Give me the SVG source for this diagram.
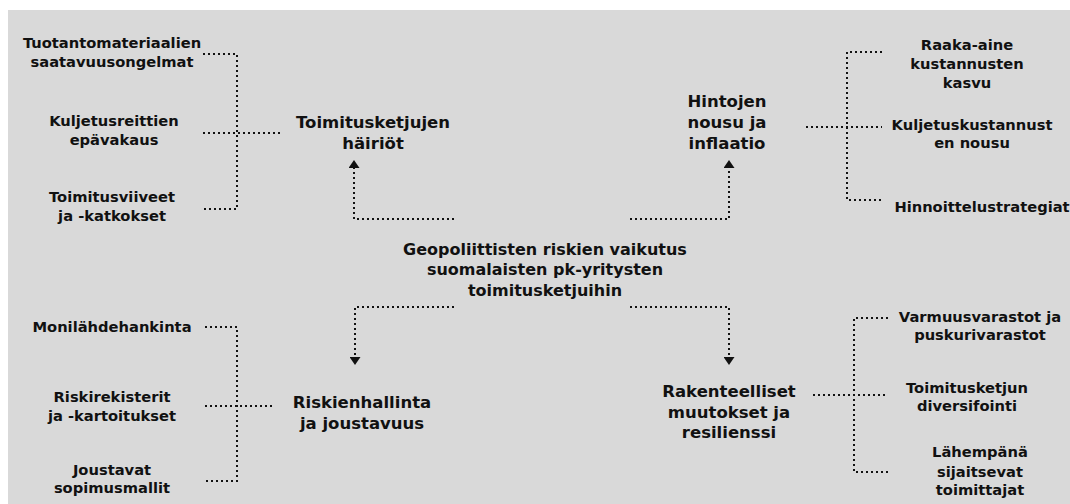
<svg xmlns="http://www.w3.org/2000/svg" width="1070" height="504" viewBox="0 0 1070 504">
<defs>
<style>
text{font-family:"DejaVu Sans","Noto Sans",sans-serif;font-weight:bold;fill:#111;text-anchor:middle}
.leaf{font-size:14.7px}
.title{font-size:16.5px}
.center{font-size:16px}
.dot{fill:none;stroke:#111;stroke-width:2;stroke-dasharray:2 3}
</style>
<marker id="arr" viewBox="0 0 8 11" refX="0" refY="5.5" markerWidth="8" markerHeight="11" markerUnits="userSpaceOnUse" orient="auto">
<path d="M0,0 L8,5.5 L0,11 z" fill="#111"/>
</marker>
</defs>
<rect x="0" y="0" width="1070" height="504" fill="#ffffff"/>
<rect x="8" y="10" width="1062" height="494" fill="#d9d9d9"/>
<g id="connectors">
<path class="dot" d="M454,219 H354 V168" marker-end="url(#arr)"/>
<path class="dot" d="M630,219 H729 V168" marker-end="url(#arr)"/>
<path class="dot" d="M454,307 H355 V357" marker-end="url(#arr)"/>
<path class="dot" d="M630,307 H729 V357" marker-end="url(#arr)"/>
<path class="dot" d="M203,54 H237 V209 H203 M203,133 H280"/>
<path class="dot" d="M882,52 H847 V200 H882 M806,127 H882"/>
<path class="dot" d="M205,327 H237 V481 H205 M205,406 H275"/>
<path class="dot" d="M888,318 H854 V472 H888 M813,395 H888"/>
</g>
<g id="center"><text class="center" x="545"><tspan x="545" y="255">Geopoliittisten riskien vaikutus</tspan><tspan x="545" y="275">suomalaisten pk-yritysten</tspan><tspan x="545" y="296">toimitusketjuihin</tspan></text></g>
<g id="n-toimitusketjut"><text class="title"><tspan x="373" y="128">Toimitusketjujen</tspan><tspan x="373" y="149">häiriöt</tspan></text></g>
<g id="n-hinnat"><text class="title"><tspan x="727" y="107">Hintojen</tspan><tspan x="727" y="128">nousu ja</tspan><tspan x="727" y="149">inflaatio</tspan></text></g>
<g id="n-riskienhallinta"><text class="title"><tspan x="362" y="408">Riskienhallinta</tspan><tspan x="362" y="429">ja joustavuus</tspan></text></g>
<g id="n-rakenteelliset"><text class="title"><tspan x="729" y="397">Rakenteelliset</tspan><tspan x="729" y="418">muutokset ja</tspan><tspan x="729" y="438">resilienssi</tspan></text></g>
<g id="l-tuotanto"><text class="leaf"><tspan x="112" y="48">Tuotantomateriaalien</tspan><tspan x="112" y="67">saatavuusongelmat</tspan></text></g>
<g id="l-kuljetusreitit"><text class="leaf"><tspan x="114" y="126">Kuljetusreittien</tspan><tspan x="114" y="145">epävakaus</tspan></text></g>
<g id="l-viiveet"><text class="leaf"><tspan x="112" y="202">Toimitusviiveet</tspan><tspan x="112" y="221">ja -katkokset</tspan></text></g>
<g id="l-raaka"><text class="leaf"><tspan x="967" y="50">Raaka-aine</tspan><tspan x="967" y="69">kustannusten</tspan><tspan x="967" y="88">kasvu</tspan></text></g>
<g id="l-kuljetuskust"><text class="leaf"><tspan x="972" y="130">Kuljetuskustannust</tspan><tspan x="972" y="148">en nousu</tspan></text></g>
<g id="l-hinnoittelu"><text class="leaf"><tspan x="982" y="212">Hinnoittelustrategiat</tspan></text></g>
<g id="l-moni"><text class="leaf"><tspan x="112" y="332">Monilähdehankinta</tspan></text></g>
<g id="l-riskirek"><text class="leaf"><tspan x="112" y="402">Riskirekisterit</tspan><tspan x="112" y="421">ja -kartoitukset</tspan></text></g>
<g id="l-sopimus"><text class="leaf"><tspan x="112" y="475">Joustavat</tspan><tspan x="112" y="493">sopimusmallit</tspan></text></g>
<g id="l-varmuus"><text class="leaf"><tspan x="980" y="322">Varmuusvarastot ja</tspan><tspan x="980" y="340">puskurivarastot</tspan></text></g>
<g id="l-diversifiointi"><text class="leaf"><tspan x="967" y="393">Toimitusketjun</tspan><tspan x="967" y="411">diversifointi</tspan></text></g>
<g id="l-lahempana"><text class="leaf"><tspan x="980" y="457">Lähempänä</tspan><tspan x="980" y="477">sijaitsevat</tspan><tspan x="980" y="495">toimittajat</tspan></text></g>
</svg>
